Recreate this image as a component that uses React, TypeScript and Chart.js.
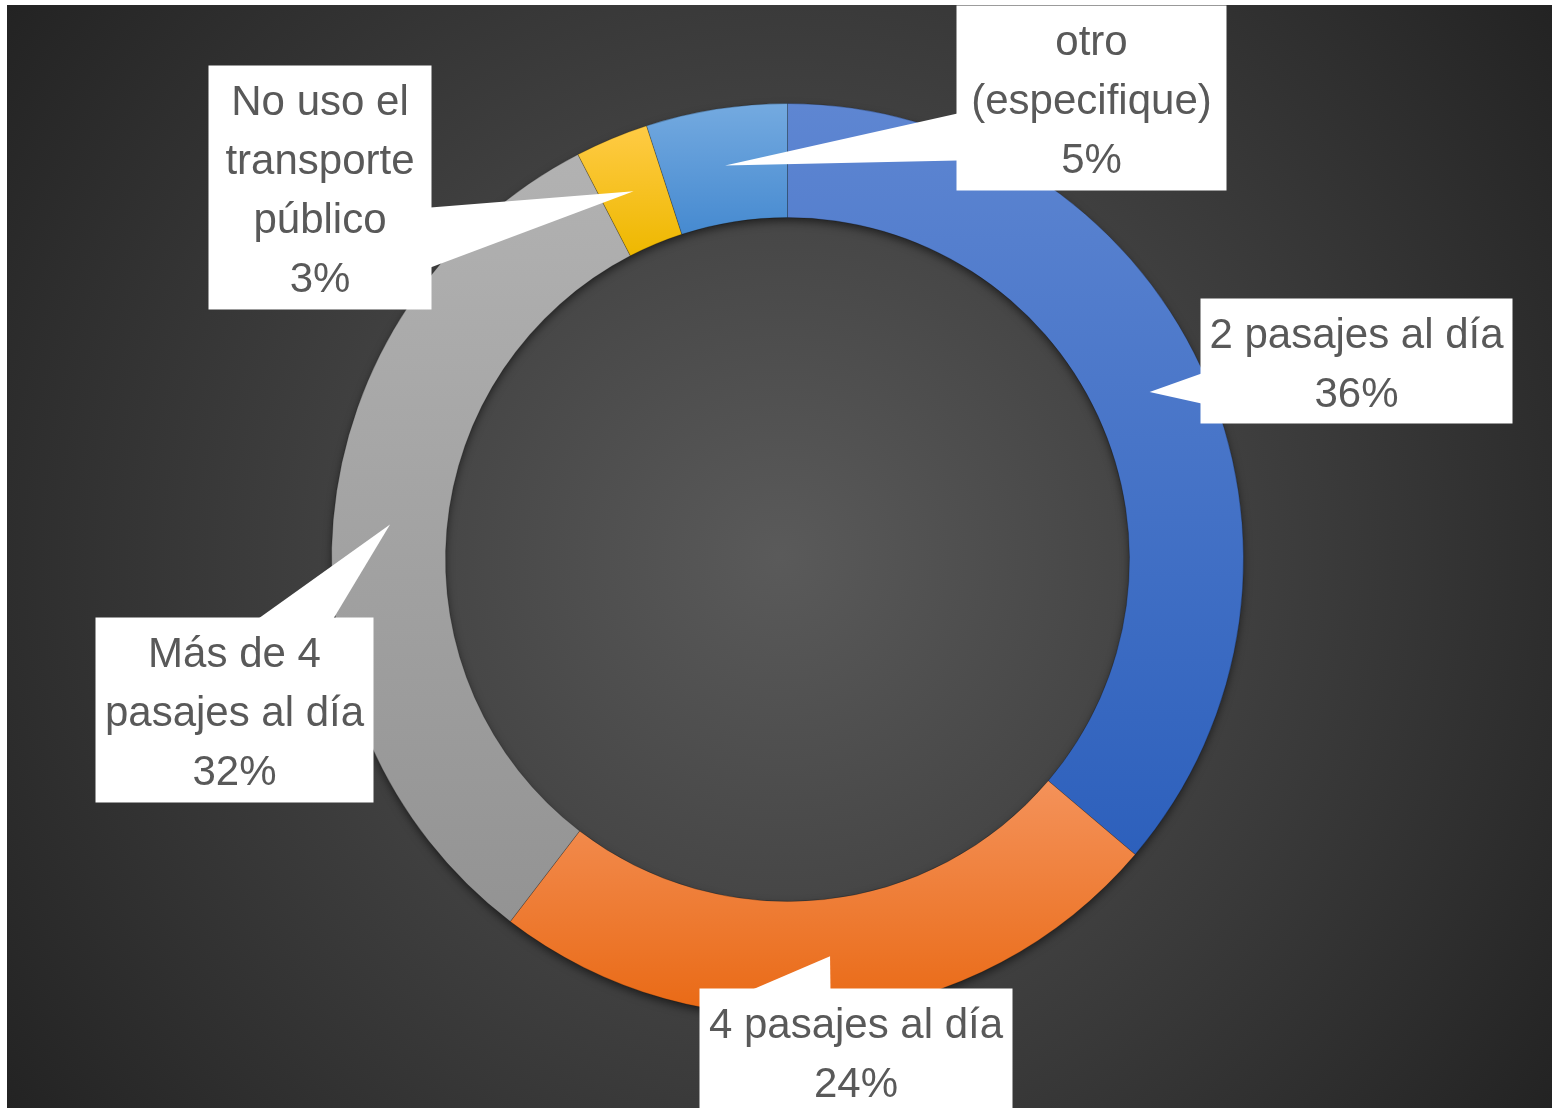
import React, { useEffect, useRef } from "react";
import { Chart, registerables } from "chart.js";

Chart.register(...registerables);

// ---- data ----
const categories = [
  "2 pasajes al día",
  "4 pasajes al día",
  "Más de 4 pasajes al día",
  "No uso el transporte público",
  "otro (especifique)",
];
// shares (labels show them rounded)
const shares = [36.2, 24.2, 32.0, 2.6, 5.0];
const labelLines = [
  ["2 pasajes al día"],
  ["4 pasajes al día"],
  ["Más de 4", "pasajes al día"],
  ["No uso el", "transporte", "público"],
  ["otro", "(especifique)"],
];

// ---- styles ----
const topColors = ["#5E86D2", "#F4925A", "#B2B2B2", "#FFCB45", "#74AAE0"];
const bottomColors = ["#2D60BC", "#E96914", "#939393", "#EEB800", "#468AD0"];

// callout boxes: offsets from doughnut centre, size, and where the pointer leaves the box
const calloutLayout = [
  { dx: 413, dy: -261, w: 312, h: 125, side: "left", a: 75, b: 105 },
  { dx: -88, dy: 429, w: 313, h: 125, side: "top", a: 53, b: 131 },
  { dx: -692, dy: 58, w: 278, h: 185, side: "top", a: 163, b: 238 },
  { dx: -579, dy: -494, w: 223, h: 244, side: "right", a: 142, b: 202 },
  { dx: 169, dy: -554, w: 270, h: 185, side: "left", a: 108, b: 155 },
];

const CUTOUT = 0.75;
const FONT = "42px 'Liberation Sans', Arial, sans-serif";
const LINE_H = 59;

function sliceGradient(c: any) {
  const chart = c.chart;
  const i = c.dataIndex;
  const area = chart.chartArea;
  if (!area || i == null) return topColors[i ?? 0];
  const total = shares.reduce((s, v) => s + v, 0);
  let cum = 0;
  for (let k = 0; k < i; k++) cum += shares[k];
  const a0 = -Math.PI / 2 + (2 * Math.PI * cum) / total;
  const a1 = a0 + (2 * Math.PI * shares[i]) / total;
  const cy = (area.top + area.bottom) / 2;
  const R = Math.min(area.width, area.height) / 2;
  const r = R * CUTOUT;
  let ymin = Infinity;
  let ymax = -Infinity;
  for (let k = 0; k <= 64; k++) {
    const a = a0 + ((a1 - a0) * k) / 64;
    for (const rad of [r, R]) {
      const y = cy + rad * Math.sin(a);
      if (y < ymin) ymin = y;
      if (y > ymax) ymax = y;
    }
  }
  const g = chart.ctx.createLinearGradient(0, ymin, 0, ymax);
  g.addColorStop(0, topColors[i]);
  g.addColorStop(1, bottomColors[i]);
  return g;
}

const backgroundPlugin = {
  id: "bgRadial",
  beforeDraw(chart: any) {
    const { ctx, width, height } = chart;
    const cx = width / 2;
    const cy = height / 2;
    const rad = Math.sqrt(cx * cx + cy * cy);
    const g = ctx.createRadialGradient(cx, cy, 0, cx, cy, rad);
    g.addColorStop(0, "#5a5a5a");
    g.addColorStop(1, "#232323");
    ctx.save();
    ctx.fillStyle = g;
    ctx.fillRect(0, 0, width, height);
    ctx.restore();
  },
};

const shadowPlugin = {
  id: "ringShadow",
  beforeDatasetsDraw(chart: any) {
    const arc = chart.getDatasetMeta(0).data[0];
    if (!arc) return;
    const { x, y, innerRadius, outerRadius } = arc.getProps(
      ["x", "y", "innerRadius", "outerRadius"],
      true
    );
    const ctx = chart.ctx;
    ctx.save();
    ctx.shadowColor = "rgba(0,0,0,0.6)";
    ctx.shadowBlur = 10;
    ctx.shadowOffsetY = 4;
    ctx.fillStyle = "#3a3a3a";
    ctx.beginPath();
    ctx.arc(x, y, outerRadius - 1, 0, Math.PI * 2);
    ctx.arc(x, y, innerRadius + 1, 0, Math.PI * 2, true);
    ctx.fill();
    ctx.restore();
  },
};

const calloutPlugin = {
  id: "callouts",
  afterDatasetsDraw(chart: any) {
    const ctx = chart.ctx;
    const meta = chart.getDatasetMeta(0);
    const total = shares.reduce((s, v) => s + v, 0);
    meta.data.forEach((arc: any, i: number) => {
      const L = calloutLayout[i];
      const tip = arc.getCenterPoint(true);
      const { x: cx, y: cy } = arc.getProps(["x", "y"], true);
      const bx = cx + L.dx;
      const by = cy + L.dy;
      ctx.save();
      ctx.fillStyle = "#FFFFFF";
      ctx.fillRect(bx, by, L.w, L.h);
      let p1: [number, number];
      let p2: [number, number];
      if (L.side === "left") {
        p1 = [bx + 1, by + L.a];
        p2 = [bx + 1, by + L.b];
      } else if (L.side === "right") {
        p1 = [bx + L.w - 1, by + L.a];
        p2 = [bx + L.w - 1, by + L.b];
      } else if (L.side === "top") {
        p1 = [bx + L.a, by + 1];
        p2 = [bx + L.b, by + 1];
      } else {
        p1 = [bx + L.a, by + L.h - 1];
        p2 = [bx + L.b, by + L.h - 1];
      }
      ctx.beginPath();
      ctx.moveTo(p1[0], p1[1]);
      ctx.lineTo(tip.x, tip.y);
      ctx.lineTo(p2[0], p2[1]);
      ctx.closePath();
      ctx.fill();

      const pct = Math.round((shares[i] / total) * 100) + "%";
      const lines = [...labelLines[i], pct];
      ctx.fillStyle = "#595959";
      ctx.font = FONT;
      ctx.textAlign = "center";
      ctx.textBaseline = "alphabetic";
      const mx = bx + L.w / 2;
      const my = by + L.h / 2;
      const n = lines.length;
      lines.forEach((t, k) => {
        ctx.fillText(t, mx, my + (k - (n - 1) / 2) * LINE_H + 16);
      });
      ctx.restore();
    });
  },
};

export default function App() {
  const ref = useRef<HTMLCanvasElement>(null);
  useEffect(() => {
    if (!ref.current) return;
    const chart = new Chart(ref.current, {
      type: "doughnut",
      data: {
        labels: categories,
        datasets: [
          {
            data: shares,
            backgroundColor: sliceGradient as any,
            borderWidth: 1,
            borderColor: "rgba(0,0,0,0.22)",
          },
        ],
      },
      options: {
        responsive: false,
        animation: false,
        events: [],
        cutout: "75%",
        layout: { padding: { left: 324, top: 98, right: 308, bottom: 92 } },
        plugins: {
          legend: { display: false },
          tooltip: { enabled: false },
        },
      },
      plugins: [backgroundPlugin, shadowPlugin, calloutPlugin],
    });
    return () => chart.destroy();
  }, []);
  return (
    <div style={{ position: "absolute", left: 7, top: 5, width: 1545, height: 1103 }}>
      <canvas ref={ref} width={1545} height={1103} style={{ display: "block" }} />
    </div>
  );
}
